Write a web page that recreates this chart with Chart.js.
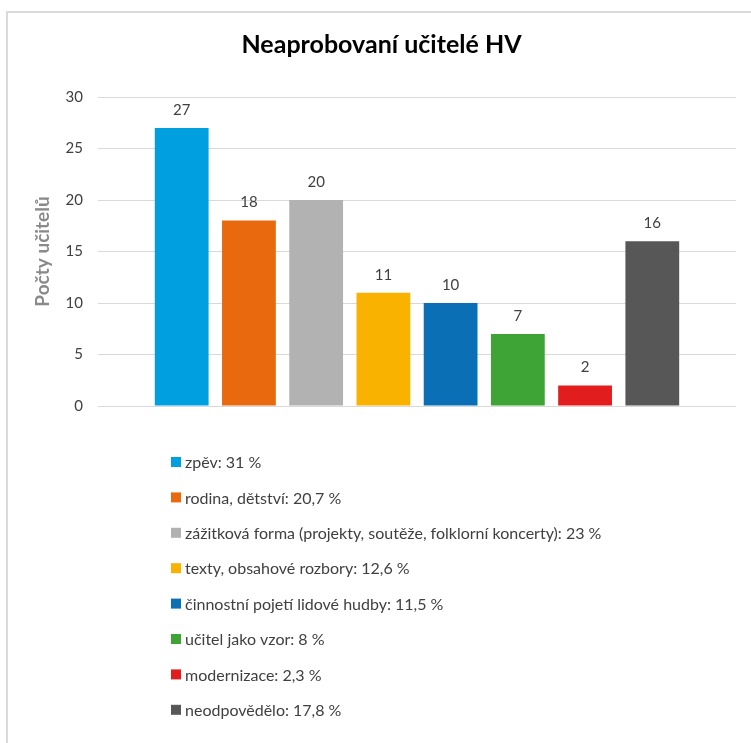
<!DOCTYPE html>
<html lang="cs">
<head>
<meta charset="utf-8">
<title>Neaprobovaní učitelé HV</title>
<script src="https://cdn.jsdelivr.net/npm/chart.js@4.4.1/dist/chart.umd.min.js"></script>
<style>
  html, body { margin: 0; padding: 0; background: #ffffff; }
  #wrap { position: relative; width: 751px; height: 743px; }
</style>
</head>
<body>
<div id="wrap"><canvas id="chart" width="751" height="743"></canvas></div>
<script>
// Number of teachers per answer group
const seriesNames = [
  'zpěv: 31 %',
  'rodina, dětství: 20,7 %',
  'zážitková forma (projekty, soutěže, folklorní koncerty): 23 %',
  'texty, obsahové rozbory: 12,6 %',
  'činnostní pojetí lidové hudby: 11,5 %',
  'učitel jako vzor: 8 %',
  'modernizace: 2,3 %',
  'neodpovědělo: 17,8 %'
];
const seriesValues = [27, 18, 20, 11, 10, 7, 2, 16];
const seriesColors = ['#009FDF', '#E9690F', '#B2B2B2', '#F9B200', '#0B6FB5', '#3DA435', '#E21D1D', '#575757'];
const yTicks = [0, 5, 10, 15, 20, 25, 30];

const FONT = 'Lato, "Open Sans", "Liberation Sans", sans-serif';
const TEXT = '#404040';

// One dataset per group, all sharing a single category slot
const datasets = seriesNames.map((name, i) => ({
  label: name,
  data: [seriesValues[i]],
  backgroundColor: seriesColors[i],
  borderWidth: 0,
  categoryPercentage: 0.843,
  barPercentage: 0.80
}));

// Light frame of the chart area (left and top edges)
const framePlugin = {
  id: 'frame',
  beforeDraw(chart) {
    const ctx = chart.ctx;
    ctx.save();
    ctx.fillStyle = '#ffffff';
    ctx.fillRect(0, 0, chart.width, chart.height);
    ctx.strokeStyle = '#DADADA';
    ctx.lineWidth = 2;
    ctx.beginPath();
    ctx.moveTo(7, chart.height + 2);
    ctx.lineTo(7, 12);
    ctx.lineTo(chart.width + 2, 12);
    ctx.stroke();
    ctx.restore();
  }
};

// Value labels above each bar
const valueLabels = {
  id: 'valueLabels',
  afterDatasetsDraw(chart) {
    const ctx = chart.ctx;
    ctx.save();
    ctx.font = '15px ' + FONT;
    ctx.fillStyle = TEXT;
    ctx.textAlign = 'center';
    ctx.textBaseline = 'middle';
    chart.data.datasets.forEach((ds, i) => {
      const meta = chart.getDatasetMeta(i);
      if (!chart.isDatasetVisible(i)) return;
      meta.data.forEach((bar, j) => {
        ctx.fillText(String(ds.data[j]), bar.x, bar.y - 18);
      });
    });
    ctx.restore();
  }
};

// Legend stacked one entry per line under the plot
const stackedLegend = {
  id: 'stackedLegend',
  afterDraw(chart) {
    const ctx = chart.ctx;
    const x0 = 171, y0 = 462, step = 35.4, box = 10;
    ctx.save();
    ctx.font = '16px ' + FONT;
    ctx.textAlign = 'left';
    ctx.textBaseline = 'middle';
    chart.data.datasets.forEach((ds, i) => {
      const y = y0 + i * step;
      ctx.fillStyle = ds.backgroundColor;
      ctx.fillRect(x0, y - box / 2, box, box);
      ctx.fillStyle = TEXT;
      ctx.fillText(ds.label, x0 + 14, y + 1);
    });
    ctx.restore();
  }
};

new Chart(document.getElementById('chart'), {
  type: 'bar',
  data: { labels: [''], datasets },
  plugins: [framePlugin, valueLabels, stackedLegend],
  options: {
    responsive: false,
    animation: false,
    layout: { padding: { left: 27, right: 15, top: 20, bottom: 337 } },
    plugins: {
      legend: { display: false },
      tooltip: { enabled: false },
      title: {
        display: true,
        text: 'Neaprobovaní učitelé HV',
        color: '#000000',
        font: { family: FONT, size: 25, weight: 'bold', lineHeight: 1.2 },
        padding: { top: 10, bottom: 37 }
      }
    },
    scales: {
      x: {
        display: false,
        grid: { display: false }
      },
      y: {
        min: 0,
        max: 30,
        afterFit(scale) { scale.width = 71; },
        afterBuildTicks(scale) { scale.ticks = yTicks.map(v => ({ value: v })); },
        border: { display: false },
        grid: { color: '#D9D9D9', lineWidth: 1, drawTicks: false },
        ticks: {
          padding: 15,
          color: TEXT,
          font: { family: FONT, size: 15 }
        },
        title: {
          display: true,
          text: 'Počty učitelů',
          color: '#8A8A8A',
          font: { family: FONT, size: 19, weight: 'bold', lineHeight: 1.2 },
          padding: { top: 4, bottom: 4 }
        }
      }
    }
  }
});
</script>
</body>
</html>
